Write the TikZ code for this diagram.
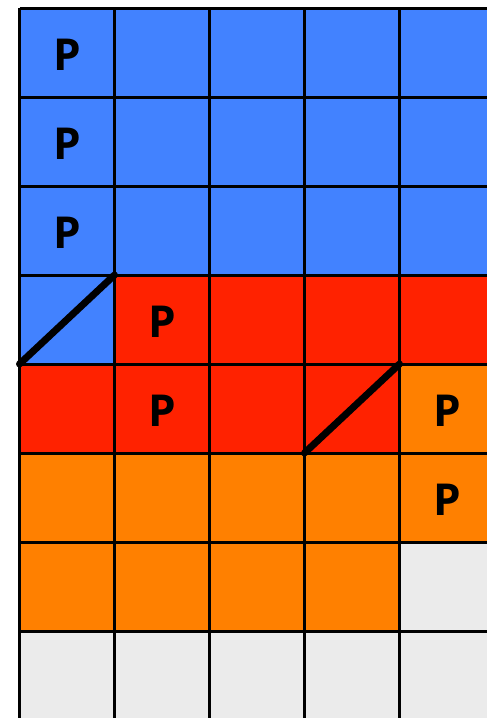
\documentclass[tikz,border=0pt]{standalone}
\usepackage{fontspec}
\setmainfont{Open Sans}
\definecolor{cblue}{RGB}{66,130,255}
\definecolor{cred}{RGB}{255,34,0}
\definecolor{corange}{RGB}{255,128,0}
\definecolor{cgray}{RGB}{235,235,235}
\begin{document}
\begin{tikzpicture}[x=1pt,y=-1pt,
  cell/.style={draw=black,line width=3pt},
  ptext/.style={font=\fontsize{44}{44}\selectfont\bfseries,inner sep=0pt},
  diag/.style={line width=7pt,line cap=round}]
\useasboundingbox (0,0) rectangle (487,718);
\clip (0,0) rectangle (487,718);
% rows: colour of each cell
\def\cw{95}\def\ch{89}
\foreach \r/\cols in {0/{cblue,cblue,cblue,cblue,cblue},
                      1/{cblue,cblue,cblue,cblue,cblue},
                      2/{cblue,cblue,cblue,cblue,cblue},
                      3/{cblue,cred,cred,cred,cred},
                      4/{cred,cred,cred,cred,corange},
                      5/{corange,corange,corange,corange,corange},
                      6/{corange,corange,corange,corange,cgray},
                      7/{cgray,cgray,cgray,cgray,cgray}}{
  \foreach \c [count=\j from 0] in \cols {
    \fill[\c] (19.5+\j*\cw,8+\r*\ch) rectangle ++(\cw,\ch);
  }
}
\foreach \r in {0,...,8} \draw[line width=3pt] (19.5,8+\r*\ch) -- (19.5+5*\cw,8+\r*\ch);
\foreach \j in {0,...,5} \draw[line width=3pt] (19.5+\j*\cw,8) -- (19.5+\j*\cw,8+8*\ch);
% diagonals
\coordinate (d1a) at (19.5,364);
\coordinate (d1b) at (114.5,275);
\coordinate (d2a) at (304.5,453);
\coordinate (d2b) at (399.5,364);
\draw[diag] (d1a) -- (d1b);
\draw[diag] (d2a) -- (d2b);
% labels
\node[ptext] (p1) at (67,55) {P};
\node[ptext] (p2) at (67,144) {P};
\node[ptext] (p3) at (67,233) {P};
\node[ptext] (p4) at (162,322) {P};
\node[ptext] (p5) at (162,411) {P};
\node[ptext] (p6) at (447,411) {P};
\node[ptext] (p7) at (447,500) {P};
\end{tikzpicture}
\end{document}
